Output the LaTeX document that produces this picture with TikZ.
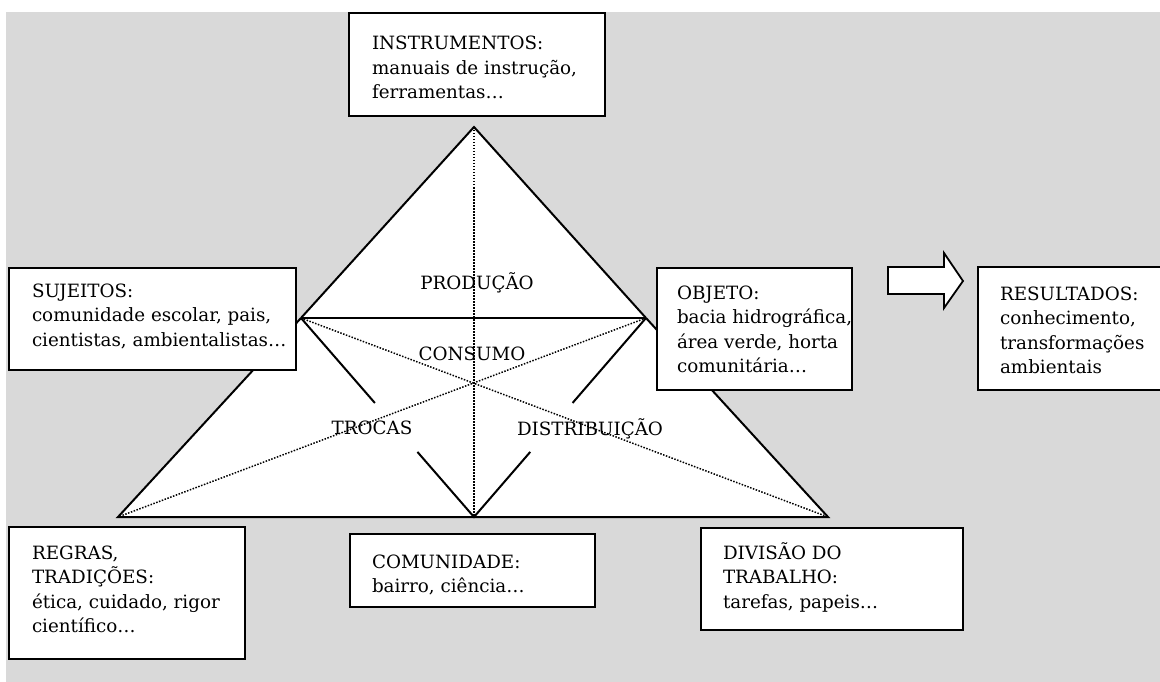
\documentclass[tikz,border=0pt]{standalone}
\usepackage{fontspec}
\setmainfont{DejaVu Serif}
\usetikzlibrary{calc}
\definecolor{bggray}{RGB}{217,217,217}
\tikzset{
  box/.style={draw=black, line width=2pt, fill=white, inner sep=0pt, outer sep=0pt, anchor=north west},
  txt/.style={inner sep=0pt, outer sep=0pt, anchor=north west, align=left, font=\fontsize{18.3}{24.5}\selectfont},
  lbl/.style={inner sep=0pt, outer sep=0pt, anchor=base, font=\fontsize{18.3}{24.5}\selectfont},
  edge/.style={line width=2pt, line join=miter},
  dot/.style={line width=1.5pt, dash pattern=on 1.5pt off 1.5pt}
}
\begin{document}
\begin{tikzpicture}[x=1pt, y=-1pt]
\useasboundingbox (0,0) rectangle (1160,682);
\fill[bggray] (6,12) rectangle (1160,682);
% triangle points
\coordinate (A) at (474,127);
\coordinate (L) at (301,318);
\coordinate (R) at (646,318);
\coordinate (BL) at (118,517);
\coordinate (BR) at (828,517);
\coordinate (BM) at (474,517);
\fill[white] (A) -- (L) -- (BL) -- (BR) -- (R) -- cycle;
\draw[edge] (L) -- (A) -- (R);
\draw[edge] (L) -- (R);
\draw[edge] (L) -- (BL) -- (BR) -- (R);
\draw[edge] (L) -- ($(L)!0.427!(BM)$);
\draw[edge] ($(L)!0.673!(BM)$) -- (BM) -- ($(R)!0.673!(BM)$);
\draw[edge] ($(R)!0.427!(BM)$) -- (R);
\draw[dot] (A) -- (BM);
\draw[dot] (L) -- (BR);
\draw[dot] (R) -- (BL);
% labels inside
\node[lbl] (prod) at (477,289) {PRODUÇÃO};
\node[lbl] (cons) at (472,360) {CONSUMO};
\node[lbl] (troc) at (372,434) {TROCAS};
\node[lbl] (dist) at (590,435) {DISTRIBUIÇÃO};
% block arrow
\draw[line width=1.8pt, fill=white, line join=miter] (888,267) -- (944,267) -- (944,253) -- (963,281) -- (944,308) -- (944,294) -- (888,294) -- cycle;
% boxes
\node[box, minimum width=256pt, minimum height=103pt] (ins) at (349,13) {};
\node[box, minimum width=287pt, minimum height=102pt] (suj) at (9,268) {};
\node[box, minimum width=195pt, minimum height=122pt] (obj) at (657,268) {};
\node[box, minimum width=190pt, minimum height=123pt] (res) at (978,267) {};
\node[box, minimum width=236pt, minimum height=132pt] (reg) at (9,527) {};
\node[box, minimum width=245pt, minimum height=73pt] (com) at (350,534) {};
\node[box, minimum width=262pt, minimum height=102pt] (div) at (701,528) {};
% texts
\node[txt] (insT) at (372,32.85) {\strut INSTRUMENTOS:\\manuais de instrução,\\ferramentas…};
\node[txt] (sujT) at (32,279.85) {\strut SUJEITOS:\\comunidade escolar, pais,\\cientistas, ambientalistas…};
\node[txt] (objT) at (677,281.85) {\strut OBJETO:\\bacia hidrográfica,\\área verde, horta\\comunitária…};
\node[txt] (resT) at (1000,282.85) {\strut RESULTADOS:\\conhecimento,\\transformações\\ambientais};
\node[txt] (regT) at (32,541.85) {\strut REGRAS,\\TRADIÇÕES:\\ética, cuidado, rigor\\científico…};
\node[txt] (comT) at (372,550.85) {\strut COMUNIDADE:\\bairro, ciência…};
\node[txt] (divT) at (723,541.85) {\strut DIVISÃO DO\\TRABALHO:\\tarefas, papeis…};
\end{tikzpicture}
\end{document}
